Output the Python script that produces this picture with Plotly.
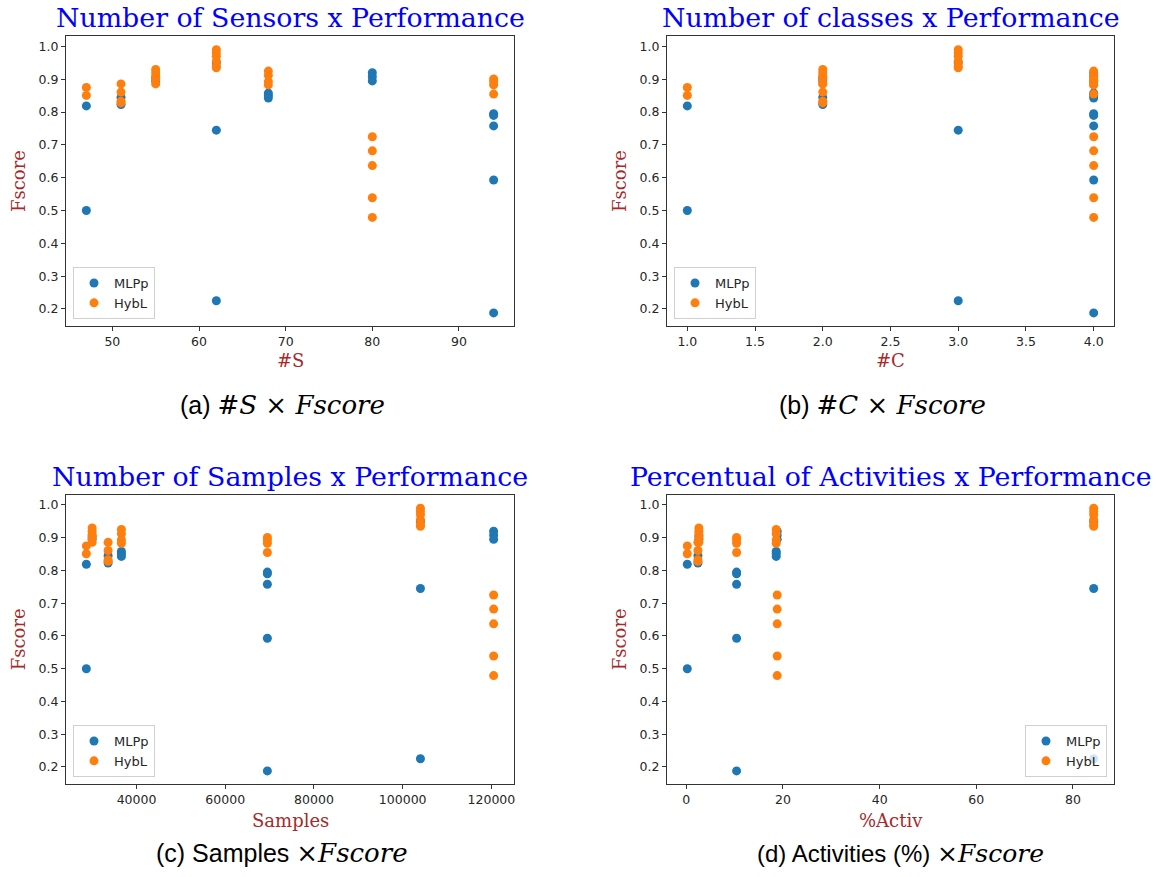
import plotly.graph_objects as go

# ---------------- data ----------------
# one entry per dataset
sensors = [47, 51, 55, 62, 68, 80, 94]
classes = [1, 2, 2, 3, 4, 4, 4]
samples = [28700, 33600, 30000, 104000, 36600, 120500, 69500]
activ_pct = [0.2, 2.4, 2.6, 84.3, 18.6, 18.8, 10.4]

mlpp_scores = [
    [0.819, 0.500],
    [0.845, 0.823],
    [0.905, 0.895],
    [0.950, 0.745, 0.225],
    [0.858, 0.851, 0.843],
    [0.920, 0.908, 0.895],
    [0.795, 0.790, 0.758, 0.593, 0.188],
]
hybl_scores = [
    [0.875, 0.851],
    [0.886, 0.861, 0.833, 0.828],
    [0.930, 0.920, 0.910, 0.900, 0.886],
    [0.990, 0.980, 0.970, 0.955, 0.940, 0.935],
    [0.925, 0.912, 0.893, 0.883],
    [0.725, 0.682, 0.637, 0.539, 0.479],
    [0.901, 0.893, 0.883, 0.855],
]

panel_titles = ["Number of Sensors x Performance", "Number of classes x Performance",
                "Number of Samples x Performance", "Percentual of Activities x Performance"]
x_labels = ["#S", "#C", "Samples", "%Activ"]
MATH = "<span style='font-family:DejaVu Serif;font-size:26px'>"
captions = ["(a) " + MATH + "<i>#S</i> × <i>Fscore</i></span>",
            "(b) " + MATH + "<i>#C</i> × <i>Fscore</i></span>",
            "(c) Samples " + MATH + "×<i>Fscore</i></span>",
            "(d) Activities (%) <span style='font-family:DejaVu Serif;font-size:25px'>×<i>Fscore</i></span>"]
series_names = ["MLPp", "HybL"]
series_colors = ["#1f77b4", "#ff7f0e"]

# ---------------- layout geometry ----------------
W, H = 1160, 877
def px_x(p): return p / W
def px_y(p): return 1 - p / H

x_doms = [(px_x(66), px_x(514)), (px_x(667), px_x(1114))]
y_doms_px = [(36, 326), (494.5, 784)]
y_doms = [(px_y(b), px_y(t)) for t, b in y_doms_px]

features = [sensors, classes, samples, activ_pct]
x_ranges = [[44.65, 96.35], [0.85, 4.15], [24110, 125090], [-4.0, 88.5]]
x_dticks = [10, 0.5, 20000, 20]
x_formats = ["d", ".1f", "d", "d"]

fig = go.Figure()
axis_font = dict(family="DejaVu Sans", size=12.5, color="#262626")
legend_names = ["legend", "legend2", "legend3", "legend4"]

for k in range(4):
    row, col = divmod(k, 2)
    ax = "" if k == 0 else str(k + 1)
    feat = features[k]
    for s, scores in enumerate([mlpp_scores, hybl_scores]):
        xs, ys = [], []
        for i, vals in enumerate(scores):
            for v in vals:
                xs.append(feat[i])
                ys.append(v)
        fig.add_trace(go.Scatter(
            x=xs, y=ys, mode="markers", name=series_names[s],
            marker=dict(color=series_colors[s], size=9, line=dict(width=0)),
            xaxis="x" + ax, yaxis="y" + ax, legend=legend_names[k], showlegend=True))

    common = dict(showline=True, mirror=True, linecolor="#333333", linewidth=1,
                  ticks="outside", ticklen=4, tickcolor="#333333", tickwidth=1,
                  showgrid=False, zeroline=False, tickfont=axis_font)
    fig.layout["xaxis" + ax] = dict(domain=x_doms[col], range=x_ranges[k], dtick=x_dticks[k],
                                    tickformat=x_formats[k], anchor="y" + ax, **common)
    fig.layout["yaxis" + ax] = dict(domain=y_doms[row], range=[0.148, 1.032], dtick=0.1,
                                    tickformat=".1f", anchor="x" + ax, **common)

    # legend
    if k == 3:
        lx, lxa = px_x(1107), "right"
    else:
        lx, lxa = (px_x(66 + 7) if col == 0 else px_x(667 + 7)), "left"
    ly = px_y(326 - 7) if row == 0 else px_y(784 - 7)
    fig.layout[legend_names[k]] = dict(x=lx, xanchor=lxa, y=ly, yanchor="bottom",
                                       bgcolor="rgba(255,255,255,0.8)", bordercolor="#d0d0d0",
                                       borderwidth=1, font=dict(family="DejaVu Sans", size=13, color="#262626"),
                                       itemsizing="trace", tracegroupgap=0)

annotations = []
title_y = [17.5, 476.5]
xlabel_y = [361, 820]
caption_y = [405, 853]
x_centers = [(66 + 514) / 2, (667 + 1114) / 2]
caption_x = [282, 882, 282, 900]
caption_size = [25, 25, 25, 24]
for k in range(4):
    row, col = divmod(k, 2)
    annotations.append(dict(text=panel_titles[k], x=px_x(x_centers[col]), y=px_y(title_y[row]),
                            xref="paper", yref="paper", xanchor="center", yanchor="middle",
                            showarrow=False, font=dict(family="DejaVu Serif", size=26.8, color="#0000ff")))
    annotations.append(dict(text=x_labels[k], x=px_x(x_centers[col]), y=px_y(xlabel_y[row]),
                            xref="paper", yref="paper", xanchor="center", yanchor="middle",
                            showarrow=False, font=dict(family="DejaVu Serif", size=18, color="#a52a2a")))
    yl_x = 18 if col == 0 else 619
    t, b = y_doms_px[row]
    annotations.append(dict(text="Fscore", x=px_x(yl_x), y=px_y((t + b) / 2),
                            xref="paper", yref="paper", xanchor="center", yanchor="middle", textangle=-90,
                            showarrow=False, font=dict(family="DejaVu Serif", size=18, color="#a52a2a")))
    annotations.append(dict(text=captions[k], x=px_x(caption_x[k]), y=px_y(caption_y[row]),
                            xref="paper", yref="paper", xanchor="center", yanchor="middle",
                            showarrow=False, font=dict(family="Liberation Sans", size=caption_size[k], color="#000000")))

fig.update_layout(width=W, height=H, margin=dict(l=0, r=0, t=0, b=0),
                  paper_bgcolor="white", plot_bgcolor="white", annotations=annotations)

fig.write_html("out.html")
